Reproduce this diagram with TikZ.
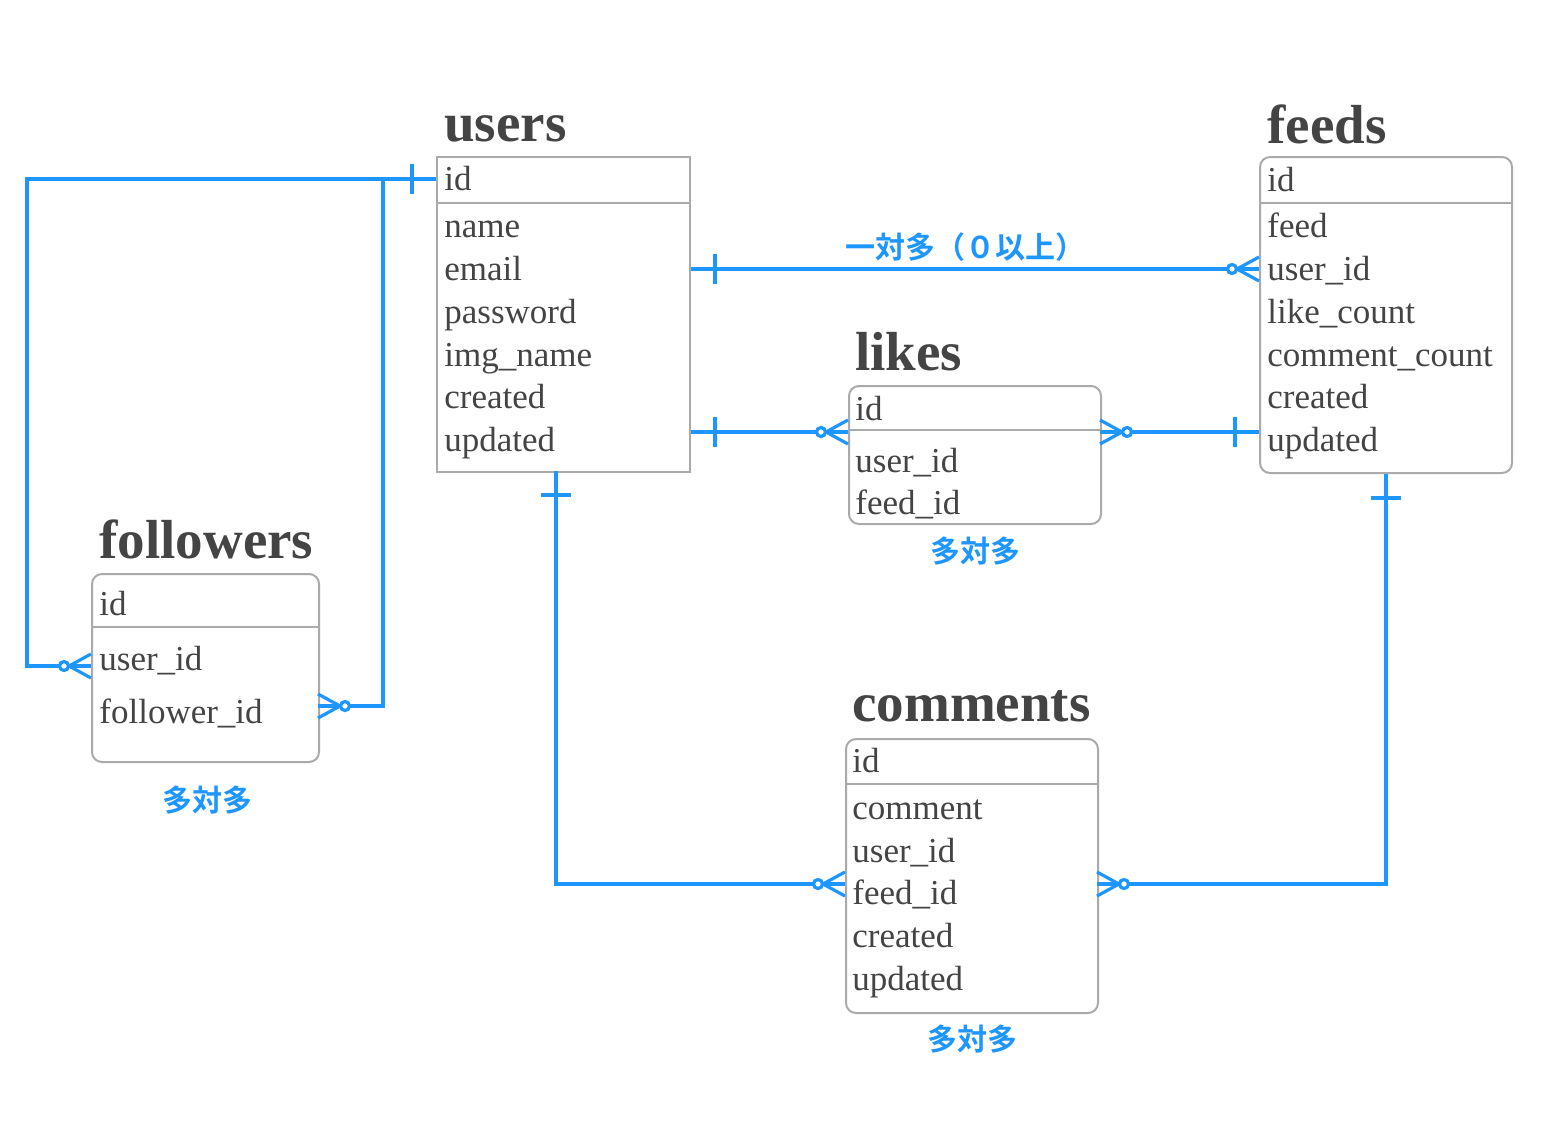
\documentclass[tikz,border=0pt]{standalone}
\usepackage{fontspec}
\setmainfont{Liberation Serif}
\newfontfamily\cjk{Noto Sans CJK JP}[BoldFont={Noto Sans CJK JP Bold}]
\usepackage{xcolor}
\usepackage{tikz}
\usetikzlibrary{positioning}

\definecolor{txt}{HTML}{444444}
\definecolor{bord}{HTML}{AAAAAA}
\definecolor{erblue}{HTML}{1E96FF}

\tikzset{
  tbl/.style={draw=bord,line width=1pt,inner sep=0pt,anchor=north west,rounded corners=5pt},
  sep/.style={draw=bord,line width=1pt},
  ttl/.style={anchor=base west,inner sep=0pt,text=txt,font=\fontsize{27.5}{30}\selectfont\bfseries},
  fld/.style={anchor=west,inner sep=0pt,text height=11pt,text depth=0pt,text=txt,font=\fontsize{17.5}{20}\selectfont},
  lbl/.style={inner sep=0pt,text=erblue,font=\cjk\bfseries\fontsize{15}{16}\selectfont},
  rel/.style={draw=erblue,line width=1.6pt},
  one/.pic={\draw[rel] (-24,-15) -- (-24,15);},
  many/.pic={\draw[rel] (0,-12) -- (-22,0) -- (0,12);
             \draw[rel,fill=white] (-27,0) circle[radius=4.5];}
}

\begin{document}
\begin{tikzpicture}[x=0.5pt,y=-0.5pt]
  \fill[white] (0,0) rectangle (1556,1136);
  \useasboundingbox (0,0) rectangle (1556,1136);

  % users
  \node[ttl] (ut) at (444,141) {users};
  \node[tbl,sharp corners,minimum width=126.5pt,minimum height=157.5pt] (ub) at (436,156) {};
  \draw[sep] (436,203) -- (689,203);
  \foreach \n/\t/\y in {uid/id/179,uname/name/226,uemail/email/269,upass/password/312,
      uimg/img\_name/355,ucre/created/397,uupd/updated/440}
    \node[fld] (\n) at (444,\y) {\t};

  % feeds
  \node[ttl] (ft) at (1267,143) {feeds};
  \node[tbl,minimum width=126pt,minimum height=158pt] (fb) at (1259,156) {};
  \draw[sep] (1259,203) -- (1511,203);
  \foreach \n/\t/\y in {fid/id/180,ffeed/feed/226,fuser/user\_id/269,flike/like\_count/312,
      fcomm/comment\_count/355,fcre/created/397,fupd/updated/440}
    \node[fld] (\n) at (1267,\y) {\t};

  % likes
  \node[ttl] (lt) at (855,370) {likes};
  \node[tbl,minimum width=126pt,minimum height=69pt] (lb) at (848,385) {};
  \draw[sep] (848,430) -- (1100,430);
  \foreach \n/\t/\y in {lid/id/409,luser/user\_id/461,lfeed/feed\_id/503}
    \node[fld] (\n) at (855,\y) {\t};

  % followers
  \node[ttl] (wt) at (99,558) {followers};
  \node[tbl,minimum width=113.5pt,minimum height=94pt] (wb) at (91,573) {};
  \draw[sep] (91,627) -- (318,627);
  \foreach \n/\t/\y in {wid/id/604,wuser/user\_id/659,wfol/follower\_id/712}
    \node[fld] (\n) at (99,\y) {\t};

  % comments
  \node[ttl] (ct) at (852,721) {comments};
  \node[tbl,minimum width=126pt,minimum height=137pt] (cb) at (845,738) {};
  \draw[sep] (845,784) -- (1097,784);
  \foreach \n/\t/\y in {cid/id/761,ccomm/comment/808,cuser/user\_id/851,cfeed/feed\_id/893,
      ccre/created/936,cupd/updated/979}
    \node[fld] (\n) at (852,\y) {\t};

  % ports
  \coordinate (lx) at (27,0);
  \coordinate (bx) at (383,0);
  \coordinate (pA) at (91,666);
  \coordinate (pB) at (318,706);
  \coordinate (pL1) at (848,432);
  \coordinate (pL2) at (1100,432);
  \coordinate (udn) at (556,471);
  \coordinate (pC1) at (845,884);
  \coordinate (pC2) at (1097,884);

  % relations
  \draw[rel] (ub.west |- uid) -| (lx |- pA) -- (pA);
  \draw[rel] (ub.west |- uid) -| (bx |- pB) -- (pB);
  \draw[rel] (ub.east |- uemail) -- (fb.west |- fuser);
  \draw[rel] (ub.east |- pL1) -- (pL1);
  \draw[rel] (fb.west |- pL2) -- (pL2);
  \draw[rel] (udn) |- (pC1);
  \draw[rel] (fb.south) |- (pC2);

  \pic at (ub.west |- uid) {one};
  \pic at (pA) {many};
  \pic[rotate=180] at (pB) {many};
  \pic[rotate=180] at (ub.east |- uemail) {one};
  \pic at (fb.west |- fuser) {many};
  \pic[rotate=180] at (ub.east |- pL1) {one};
  \pic at (pL1) {many};
  \pic at (fb.west |- pL2) {one};
  \pic[rotate=180] at (pL2) {many};
  \pic[rotate=90] at (udn) {one};
  \pic at (pC1) {many};
  \pic[rotate=90] at (fb.south) {one};
  \pic[rotate=180] at (pC2) {many};

  % labels
  \node[lbl] (l1) at (965,247) {一対多（０以上）};
  \node[lbl,below=5.5pt of lb.south] (l2) {多対多};
  \node[lbl] (l3) at (207,800) {多対多};
  \node[lbl,below=5pt of cb.south] (l4) {多対多};
\end{tikzpicture}
\end{document}
